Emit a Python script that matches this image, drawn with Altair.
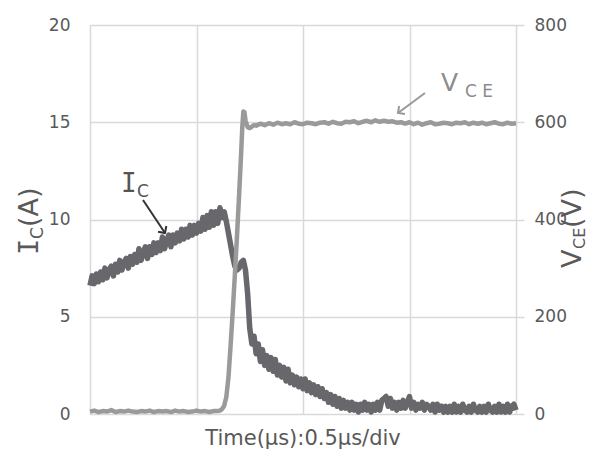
import altair as alt
import pandas as pd

# ---------------- data ----------------
TIME_STEP = 0.01  # us between collector-current samples
ic_current = [
    6.6, 7.1, 6.7, 7.2, 6.8, 7.3, 6.9, 7.5, 7.0, 7.4,
    7.6, 7.1, 7.7, 7.3, 7.9, 7.4, 7.8, 8.0, 7.5, 8.1,
    7.7, 8.2, 7.8, 8.5, 7.9, 8.3, 8.6, 8.0, 8.6, 8.2,
    8.8, 8.3, 8.8, 8.4, 9.1, 8.5, 8.9, 9.2, 8.6, 9.2,
    8.8, 9.3, 8.9, 9.5, 9.0, 9.5, 9.1, 9.7, 9.2, 9.7,
    9.3, 9.8, 9.4, 10.1, 9.5, 10.2, 9.6, 10.4, 9.7, 10.4,
    9.8, 10.6, 10.1, 10.4, 9.9, 9.3, 8.7, 8.1, 7.6, 7.4,
    7.5, 7.8, 7.9, 7.4, 6.2, 4.4, 3.6, 4.0, 3.1, 3.6,
    2.7, 3.3, 2.5, 3.0, 2.3, 2.9, 2.2, 2.8, 2.0, 2.5,
    1.9, 2.4, 1.7, 2.3, 1.6, 2.0, 1.5, 1.9, 1.4, 1.8,
    1.3, 1.8, 1.2, 1.6, 1.1, 1.5, 1.0, 1.4, 0.9, 1.3,
    0.8, 1.1, 0.6, 1.0, 0.5, 0.9, 0.4, 0.8, 0.3, 0.7,
    0.3, 0.6, 0.2, 0.6, 0.2, 0.5, 0.1, 0.5, 0.2, 0.6,
    0.2, 0.5, 0.1, 0.5, 0.2, 0.6, 0.2, 0.7, 0.8, 0.9,
    0.4, 0.8, 0.3, 0.6, 0.2, 0.6, 0.3, 0.7, 0.3, 0.6,
    0.9, 0.3, 0.6, 0.2, 0.5, 0.3, 0.6, 0.2, 0.5, 0.4,
    0.2, 0.5, 0.1, 0.5, 0.2, 0.4, 0.1, 0.4, 0.1, 0.4,
    0.1, 0.5, 0.1, 0.4, 0.1, 0.5, 0.2, 0.1, 0.4, 0.1,
    0.5, 0.2, 0.1, 0.4, 0.1, 0.4, 0.1, 0.5, 0.2, 0.1,
    0.4, 0.1, 0.5, 0.1, 0.4, 0.1, 0.5, 0.1, 0.4, 0.5,
    0.2,
]
ic_time = [round(i * TIME_STEP, 2) for i in range(len(ic_current))]

vce_time = [
    0.00, 0.02, 0.04, 0.06, 0.08, 0.10, 0.12, 0.14, 0.16, 0.18,
    0.20, 0.22, 0.24, 0.26, 0.28, 0.30, 0.32, 0.34, 0.36, 0.38,
    0.40, 0.42, 0.44, 0.46, 0.48, 0.50, 0.52, 0.54, 0.56, 0.58,
    0.60, 0.61, 0.62, 0.63, 0.64, 0.65, 0.66, 0.67, 0.68, 0.69,
    0.70, 0.71, 0.715, 0.72, 0.725, 0.73, 0.74, 0.75, 0.76, 0.77,
    0.78, 0.80, 0.82, 0.84, 0.86, 0.88, 0.90, 0.92, 0.94, 0.96,
    0.98, 1.00, 1.02, 1.04, 1.06, 1.08, 1.10, 1.12, 1.14, 1.16,
    1.18, 1.20, 1.22, 1.24, 1.26, 1.28, 1.30, 1.32, 1.34, 1.36,
    1.38, 1.40, 1.42, 1.44, 1.46, 1.48, 1.50, 1.52, 1.54, 1.56,
    1.58, 1.60, 1.62, 1.64, 1.66, 1.68, 1.70, 1.72, 1.74, 1.76,
    1.78, 1.80, 1.82, 1.84, 1.86, 1.88, 1.90, 1.92, 1.94, 1.96,
    1.98, 2.00,
]
vce_voltage = [
    5, 7, 4, 6, 5, 8, 4, 6, 5, 7,
    5, 4, 6, 5, 7, 4, 6, 5, 6, 4,
    7, 5, 6, 4, 5, 7, 5, 6, 4, 6,
    6, 7, 10, 17, 35, 75, 140, 210, 285, 365,
    450, 540, 590, 622, 621, 604, 590, 588, 591, 594,
    593, 597, 594, 598, 595, 599, 596, 598, 596, 600,
    597, 596, 599, 598, 596, 599, 600, 597, 601, 598,
    597, 601, 600, 602, 598, 601, 603, 600, 604, 601,
    603, 601, 602, 599, 600, 597, 600, 596, 599, 595,
    598, 600, 596, 597, 599, 598, 596, 599, 598, 600,
    596, 599, 597, 599, 596, 598, 600, 597, 596, 599,
    597, 598,
]

time_ticks = [0, 0.5, 1.0, 1.5, 2.0]
ic_ticks = [0, 5, 10, 15, 20]
vce_ticks = [0, 200, 400, 600, 800]

ic_df = pd.DataFrame({"t": ic_time, "ic": ic_current})
vce_df = pd.DataFrame({"t": vce_time, "vce": vce_voltage})

GRID = "#d9d9d9"
LABEL = "#595959"
FONT = "DejaVu Sans"
IC_COLOR = "#67676c"
VCE_COLOR = "#9a9a9a"

x_enc = alt.X(
    "t:Q",
    scale=alt.Scale(domain=[0, 2], nice=False, zero=False),
    axis=alt.Axis(values=time_ticks, labels=False, ticks=False, domain=False,
                  grid=True, gridColor=GRID, gridWidth=1.5, title=None),
)

ic_line = alt.Chart(ic_df).mark_line(
    color=IC_COLOR, strokeWidth=5.5, strokeJoin="round"
).encode(
    x=x_enc,
    y=alt.Y("ic:Q", scale=alt.Scale(domain=[0, 20], nice=False),
            axis=alt.Axis(values=ic_ticks, orient="left", ticks=False, domain=False,
                          labelPadding=20, labelFontSize=17, labelColor=LABEL,
                          labelFont=FONT, grid=True, gridColor=GRID, gridWidth=1.5,
                          title=None)),
)

vce_line = alt.Chart(vce_df).mark_line(
    color=VCE_COLOR, strokeWidth=4.5, strokeJoin="round"
).encode(
    x=x_enc,
    y=alt.Y("vce:Q", scale=alt.Scale(domain=[0, 800], nice=False),
            axis=alt.Axis(values=vce_ticks, orient="right", ticks=True, tickSize=8,
                          tickColor=GRID, tickWidth=1.5, domain=False,
                          labelPadding=10, labelFontSize=17, labelColor=LABEL,
                          labelFont=FONT, grid=False, title=None)),
)

one = alt.Data(values=[{}])


def txt(s, x, y, size, color=LABEL, angle=0, font=FONT, align="left"):
    return alt.Chart(one).mark_text(
        text=s, fontSize=size, color=color, angle=angle, font=font,
        align=align, baseline="alphabetic"
    ).encode(x=alt.value(x), y=alt.value(y))


def rule(x1, y1, x2, y2, color):
    return alt.Chart(one).mark_rule(color=color, strokeWidth=2).encode(
        x=alt.value(x1), y=alt.value(y1), x2=alt.value(x2), y2=alt.value(y2))


def head(x, y, angle, color):
    return alt.Chart(one).mark_point(
        shape="M-1,-1L0,0L-1,1", filled=False, color=color, strokeWidth=2,
        size=100, angle=angle, opacity=1
    ).encode(x=alt.value(x), y=alt.value(y))


layers = [
    ic_line,
    vce_line,
    # left axis title I_C(A)
    txt("I", -52, 230, 27, angle=270, font="DejaVu Sans Mono"),
    txt("C", -47, 214, 17, angle=270),
    txt("(A)", -52, 202, 27, angle=270),
    # right axis title V_CE(V)
    txt("V", 491, 243, 27, angle=270),
    txt("CE", 495, 224, 16, angle=270),
    txt("(V)", 491, 203, 27, angle=270),
    # x title
    txt("Time(μs):0.5μs/div", 213, 420, 21, align="center"),
    # I_C annotation
    txt("I", 31, 167, 26, color="#555555", font="DejaVu Sans Mono"),
    txt("C", 47, 172, 17, color="#555555"),
    rule(53, 175, 75, 208, "#333333"),
    head(75, 208, 56, "#333333"),
    # V_CE annotation
    txt("V", 351, 66, 25, color="#8c8c8c"),
    txt("C E", 375, 72, 17, color="#8c8c8c"),
    rule(335, 68, 308, 88, "#999999"),
    head(308, 88, 144, "#999999"),
]

chart = alt.layer(*layers).resolve_scale(y="independent").properties(
    width=426,
    height=389,
    autosize=alt.AutoSizeParams(type="none"),
    padding={"left": 82, "top": 17, "right": 73, "bottom": 35},
).configure_view(strokeWidth=0).configure(background="white")

chart.save("out.html", embed_options={"renderer": "svg", "actions": False})
